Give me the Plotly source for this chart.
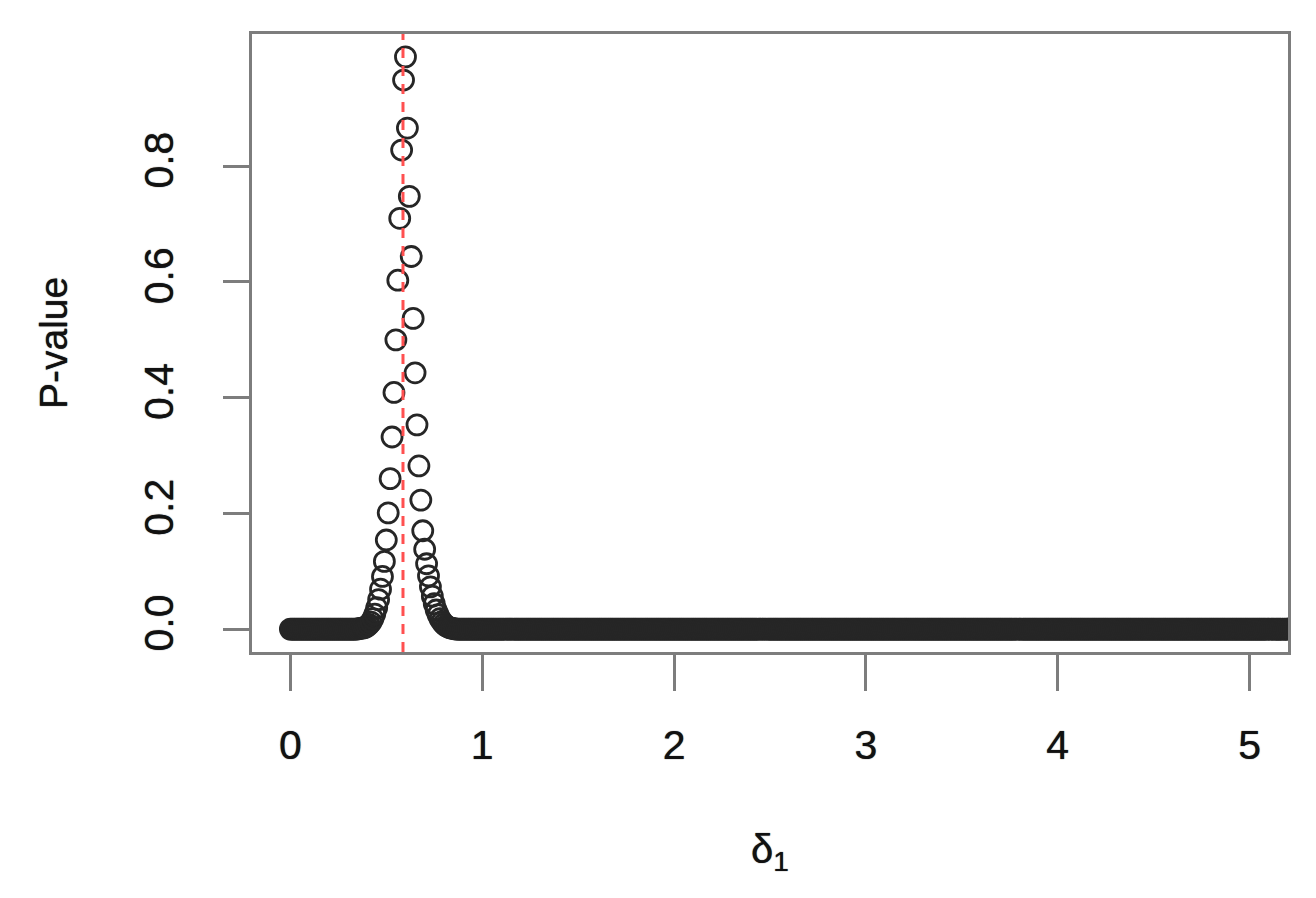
import numpy as np
import plotly.graph_objects as go

# ---- data ----
delta_step = 0.01
delta_min, delta_max = 0.0, 5.5          # points run past the right frame and are clipped
axis_min, axis_max = 0.0, 5.0            # plotted limits (before 4% padding)
delta = np.round(np.arange(delta_min, delta_max + delta_step / 2, delta_step), 2)

# p-values for delta = 0.35 ... 0.86 (the peak); all other grid points sit at 0
peak_start = 0.35
peak_pvalues = [
    0.0005, 0.001, 0.0015, 0.002, 0.003, 0.005, 0.008, 0.012, 0.018, 0.026,
    0.037, 0.051, 0.069, 0.091, 0.117, 0.154, 0.201, 0.260, 0.332, 0.409,
    0.500, 0.603, 0.710, 0.828, 0.949, 0.989, 0.866, 0.748, 0.644, 0.537,
    0.443, 0.353, 0.282, 0.223, 0.170, 0.138, 0.113, 0.092, 0.073, 0.057,
    0.044, 0.033, 0.025, 0.018, 0.013, 0.009, 0.006, 0.004, 0.0025, 0.0015,
    0.001, 0.0005,
]
n_before = int(round(peak_start / delta_step))
pvalue = [0.0] * n_before + peak_pvalues + [0.0] * (len(delta) - n_before - len(peak_pvalues))

estimate = 0.587  # red dashed reference line

x_ticks = [0, 1, 2, 3, 4, 5]
x_ticktext = ["0", "1", "2", "3", "4", "5"]
y_ticks = [0.0, 0.2, 0.4, 0.6, 0.8]
y_ticktext = ["0.0", "0.2", "0.4", "0.6", "0.8"]

# ---- figure ----
FONT = "Liberation Sans, Arial, sans-serif"
FRAME = "#7d7d7d"
TXT = "#111111"
SHADOW = "0px 0px 1px #222"

fig = go.Figure()
fig.add_trace(go.Scatter(
    x=delta, y=pvalue, mode="markers", cliponaxis=True,
    marker=dict(symbol="circle-open", size=20, color="#262626",
                line=dict(width=2.8, color="#262626")),
    showlegend=False, hoverinfo="x+y",
))

fig.add_shape(type="line", x0=estimate, x1=estimate, xref="x",
              y0=0, y1=1, yref="paper",
              line=dict(color="#ff5050", width=3, dash="10px,8px"),
              layer="above")

y_lo, y_hi = 0.0, max(pvalue)
pad_y = 0.04 * (y_hi - y_lo)
pad_x = 0.04 * (axis_max - axis_min)

fig.update_layout(
    width=1316, height=898,
    margin=dict(l=244, r=36, t=26, b=254),
    paper_bgcolor="white", plot_bgcolor="white",
    font=dict(family=FONT, size=40, color=TXT),
    xaxis=dict(
        range=[axis_min - pad_x, axis_max + pad_x],
        tickvals=x_ticks, ticktext=x_ticktext,
        showgrid=False, zeroline=False,
        showline=True, linecolor=FRAME, linewidth=3, mirror=True,
        ticks="outside", ticklen=36, tickwidth=2.5, tickcolor=FRAME,
        ticklabelstandoff=19,
        tickfont=dict(size=41, family=FONT, color=TXT, shadow=SHADOW),
    ),
    yaxis=dict(
        range=[y_lo - pad_y, y_hi + pad_y],
        tickvals=y_ticks, ticktext=y_ticktext,
        tickangle=-90,
        showgrid=False, zeroline=False,
        showline=True, linecolor=FRAME, linewidth=3, mirror=True,
        ticks="outside", ticklen=26, tickwidth=2.5, tickcolor=FRAME,
        ticklabelstandoff=34,
        tickfont=dict(size=41, family=FONT, color=TXT, shadow=SHADOW),
    ),
    annotations=[
        dict(text="P-value", xref="paper", yref="paper", x=0, y=0.5,
             xanchor="center", yanchor="middle", xshift=-199,
             textangle=-90, showarrow=False,
             font=dict(size=39, family=FONT, color=TXT, shadow=SHADOW)),
        dict(text="δ<sub>1</sub>", xref="paper", yref="paper", x=0.5, y=0,
             xanchor="center", yanchor="middle", yshift=-200,
             showarrow=False,
             font=dict(size=40, family=FONT, color=TXT, shadow=SHADOW)),
    ],
)

fig.write_html("out.html")
